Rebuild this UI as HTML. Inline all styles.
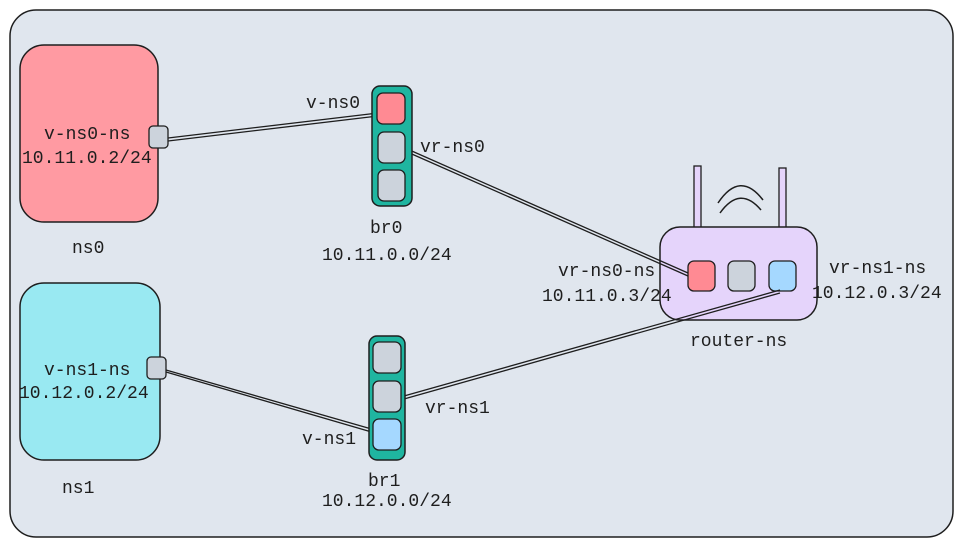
<!DOCTYPE html>
<html><head><style>body{margin:0;background:#fff}svg text{font-family:"Liberation Mono",monospace;font-size:18px;fill:#1e1e1e}</style></head><body>
<svg width="963" height="547" viewBox="0 0 963 547" xmlns="http://www.w3.org/2000/svg">
<rect x="10" y="10" width="943" height="527" rx="26" fill="#e0e6ee" stroke="#1e1e1e" stroke-width="1.5"/>
<rect x="20" y="45" width="138" height="177" rx="24" fill="#ff9aa2" stroke="#1e1e1e" stroke-width="1.5"/>
<rect x="20" y="283" width="140" height="177" rx="24" fill="#99e9f2" stroke="#1e1e1e" stroke-width="1.5"/>
<rect x="694" y="166" width="7" height="62" fill="#e5d4fb" stroke="#1e1e1e" stroke-width="1.3"/>
<rect x="779" y="168" width="7" height="60" fill="#e5d4fb" stroke="#1e1e1e" stroke-width="1.3"/>
<path d="M718 203 Q740 170 763 200 M720 213 Q740 185 761 210" stroke="#1e1e1e" stroke-width="1.5" fill="none"/>
<rect x="660" y="227" width="157" height="93" rx="20" fill="#e5d4fb" stroke="#1e1e1e" stroke-width="1.5"/>
<rect x="688" y="261" width="27" height="30" rx="6" fill="#ff8a93" stroke="#1e1e1e" stroke-width="1.3"/>
<rect x="728" y="261" width="27" height="30" rx="6" fill="#ccd3dc" stroke="#1e1e1e" stroke-width="1.3"/>
<rect x="769" y="261" width="27" height="30" rx="6" fill="#a5d8ff" stroke="#1e1e1e" stroke-width="1.3"/>
<g stroke="#1e1e1e" stroke-width="1.3" fill="none">
<line x1="168" y1="138" x2="378" y2="113"/><line x1="168" y1="141" x2="378" y2="116"/>
<line x1="405" y1="148" x2="688" y2="273"/><line x1="405" y1="151" x2="688" y2="276"/>
<line x1="166" y1="370" x2="375" y2="430"/><line x1="166" y1="372" x2="375" y2="433"/>
<line x1="404" y1="396" x2="780" y2="290"/><line x1="404" y1="399" x2="780" y2="293"/>
</g>
<rect x="149" y="126" width="19" height="22" rx="4" fill="#ccd3dc" stroke="#1e1e1e" stroke-width="1.3"/>
<rect x="147" y="357" width="19" height="22" rx="4" fill="#ccd3dc" stroke="#1e1e1e" stroke-width="1.3"/>
<rect x="372" y="86" width="40" height="120" rx="8" fill="#1fb5a0" stroke="#1e1e1e" stroke-width="1.5"/>
<rect x="377" y="93" width="28" height="31" rx="6" fill="#ff8a93" stroke="#1e1e1e" stroke-width="1.3"/>
<rect x="378" y="132" width="27" height="31" rx="6" fill="#ccd3dc" stroke="#1e1e1e" stroke-width="1.3"/>
<rect x="378" y="170" width="27" height="31" rx="6" fill="#ccd3dc" stroke="#1e1e1e" stroke-width="1.3"/>
<rect x="369" y="336" width="36" height="124" rx="8" fill="#1fb5a0" stroke="#1e1e1e" stroke-width="1.5"/>
<rect x="373" y="342" width="28" height="31" rx="6" fill="#ccd3dc" stroke="#1e1e1e" stroke-width="1.3"/>
<rect x="373" y="381" width="28" height="31" rx="6" fill="#ccd3dc" stroke="#1e1e1e" stroke-width="1.3"/>
<rect x="373" y="419" width="28" height="31" rx="6" fill="#a5d8ff" stroke="#1e1e1e" stroke-width="1.3"/>
<text x="44" y="139">v-ns0-ns</text><text x="22" y="163">10.11.0.2/24</text>
<text x="72" y="253">ns0</text>
<text x="44" y="375">v-ns1-ns</text><text x="19" y="398">10.12.0.2/24</text>
<text x="62" y="493">ns1</text>
<text x="306" y="108">v-ns0</text><text x="420" y="152">vr-ns0</text>
<text x="370" y="233">br0</text><text x="322" y="260">10.11.0.0/24</text>
<text x="302" y="444">v-ns1</text><text x="425" y="413">vr-ns1</text>
<text x="368" y="486">br1</text><text x="322" y="506">10.12.0.0/24</text>
<text x="558" y="276">vr-ns0-ns</text><text x="542" y="301">10.11.0.3/24</text>
<text x="829" y="273">vr-ns1-ns</text><text x="812" y="298">10.12.0.3/24</text>
<text x="690" y="346">router-ns</text>
</svg></body></html>
